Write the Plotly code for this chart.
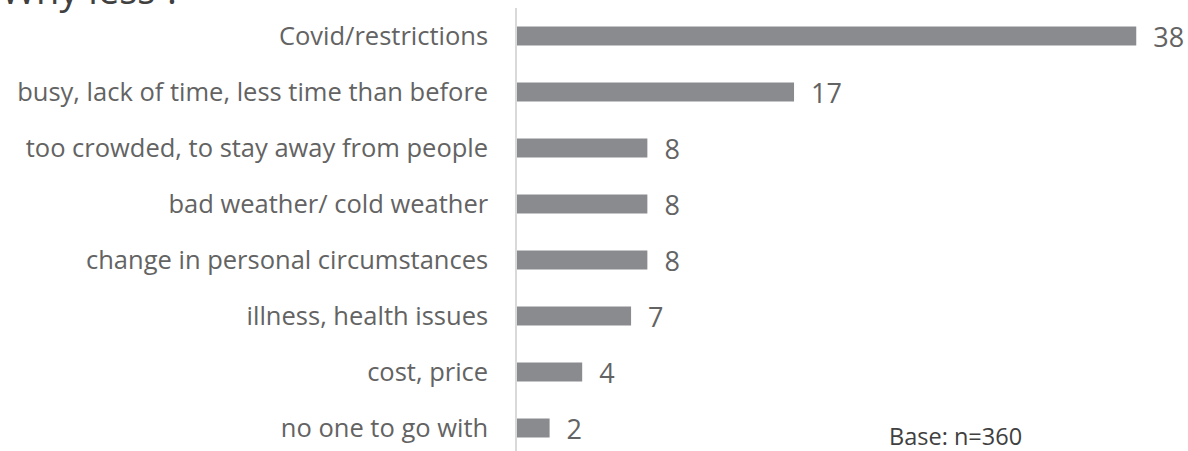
import plotly.graph_objects as go

categories = [
    "Covid/restrictions",
    "busy, lack of time, less time than before",
    "too crowded, to stay away from people",
    "bad weather/ cold weather",
    "change in personal circumstances",
    "illness, health issues",
    "cost, price",
    "no one to go with",
]
values = [38, 17, 8, 8, 8, 7, 4, 2]

title_text = "Why less ?"
base_note = "Base: n=360"

font_name = "Open Sans"
grey_text = "#636363"

fig = go.Figure(
    data=go.Bar(
        x=values,
        y=categories,
        orientation="h",
        width=0.34,
        marker=dict(color="#8a8b8f", line=dict(width=0)),
        text=["\u00a0\u00a0" + str(v) for v in values],
        textposition="outside",
        constraintext="none",
        textfont=dict(family=font_name, size=27, color=grey_text),
        cliponaxis=False,
    )
)

fig.update_layout(
    width=1188,
    height=451,
    margin=dict(l=517, r=11, t=8, b=0),
    plot_bgcolor="white",
    paper_bgcolor="white",
    showlegend=False,
    font=dict(family=font_name, color=grey_text),
    xaxis=dict(
        range=[0, 40.5],
        visible=False,
        automargin=False,
    ),
    yaxis=dict(
        categoryorder="array",
        categoryarray=categories,
        range=[7.41, -0.5],
        automargin=False,
        showgrid=False,
        showline=True,
        linecolor="#d9d9d9",
        linewidth=1.5,
        ticks="",
        ticklabelstandoff=22,
        tickfont=dict(family=font_name, size=25.5, color=grey_text),
    ),
    annotations=[
        dict(
            text=title_text,
            xref="paper", yref="paper",
            x=-0.785, y=0.979,
            xanchor="left", yanchor="bottom",
            showarrow=False,
            font=dict(family=font_name, size=38, color="#404040"),
        ),
        dict(
            text=base_note,
            xref="paper", yref="paper",
            x=0.56, y=0.033,
            xanchor="left", yanchor="middle",
            showarrow=False,
            font=dict(family=font_name, size=23.5, color="#404040"),
        ),
    ],
)

# drop the default page margin so the figure sits at the window's corner
fig.write_html(
    "out.html",
    config={"displayModeBar": False},
    post_script="document.body.style.margin='0';document.body.style.overflow='hidden';",
)
